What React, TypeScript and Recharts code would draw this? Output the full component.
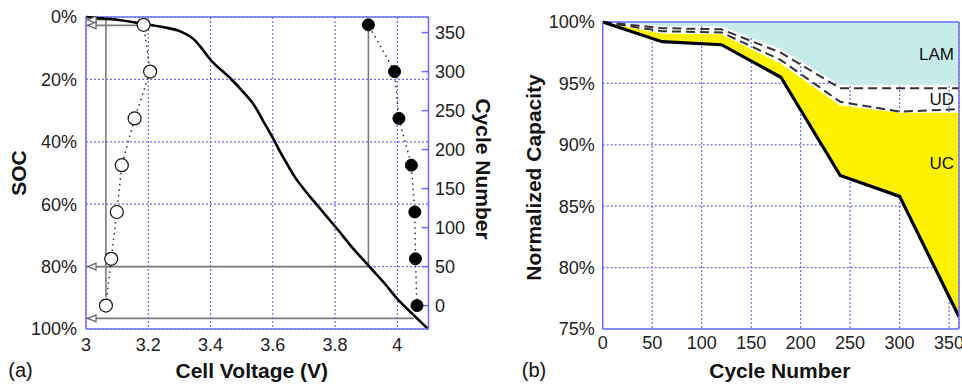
import {
  Area,
  CartesianGrid,
  ComposedChart,
  Label,
  Line,
  ReferenceDot,
  ReferenceLine,
  XAxis,
  YAxis,
} from "recharts";

const FONT = "'Liberation Sans', Arial, sans-serif";
const BLUE = "#6e6ef7";
const GRID = "#6c6cff";
const GRAY = "#7a7a7a";
const YELLOW = "#fff200";
const CYAN = "#c6ece9";

// (a) SOC vs cell voltage
const curveVolts = [
  3.0, 3.035, 3.1, 3.184, 3.25, 3.303, 3.35, 3.368, 3.4, 3.465, 3.5, 3.539,
  3.57, 3.603, 3.625, 3.648, 3.669, 3.7, 3.733, 3.77, 3.809, 3.852, 3.911,
  3.96, 4.002, 4.05, 4.099,
];
const curveSoc = [
  0, 0.3, 0.9, 2.2, 3.3, 4.6, 7.5, 9.6, 13.7, 19.8, 23.5, 28.1, 33.5, 39.3,
  43.5, 47.5, 51, 55.2, 59.2, 63.6, 68.2, 73.5, 80.1, 85.5, 90.6, 95.3, 100,
];

const markerCycles = [0, 60, 120, 180, 240, 300, 360];
const openVolts = [3.064, 3.081, 3.099, 3.115, 3.156, 3.206, 3.185];
const filledVolts = [4.063, 4.058, 4.056, 4.045, 4.005, 3.991, 3.907];

// gray guide arrows (voltage, SOC), arrow head at first point
const guideTopV = [3.0, 3.064, 3.064];
const guideTopSoc = [0.9, 0.9, 89.8];
const guide360V = [3.0, 3.185];
const guide360Soc = [2.7, 2.7];
const guide80V = [3.0, 3.907, 3.907];
const guide80Soc = [80, 80, 2.7];
const guideEndV = [3.0, 4.053];
const guideEndSoc = [96.6, 96.6];

const voltTicks = [3, 3.2, 3.4, 3.6, 3.8, 4];
const socTicks = [0, 20, 40, 60, 80, 100];
const cycleTicksA = [0, 50, 100, 150, 200, 250, 300, 350];

// (b) normalized capacity vs cycle number
const cycleNums = [0, 60, 120, 180, 240, 300, 360];
const capacity = [100, 98.4, 98.15, 95.5, 87.5, 85.8, 76.0];
const ucTop = [100, 99.05, 99.0, 96.6, 93.2, 92.6, 92.6];
const udDashed = [100, 99.25, 99.15, 96.9, 93.5, 92.7, 92.9];
const lamDashed = [100, 99.5, 99.4, 97.5, 94.6, 94.6, 94.6];
const lamEdge = [100, 99.7, 99.65, 97.8, 94.9, 94.9, 94.9];

const cycleTicksB = [0, 50, 100, 150, 200, 250, 300, 350];
const capTicks = [75, 80, 85, 90, 95, 100];
const regionLabels = [
  { name: "LAM", y: 97.4 },
  { name: "UD", y: 93.7 },
  { name: "UC", y: 88.5 },
];

const pts = (xs: number[], ys: number[]) => xs.map((v, i) => ({ v, y: ys[i] }));

const curveData = pts(curveVolts, curveSoc);
const openData = pts(openVolts, markerCycles);
const filledData = pts(filledVolts, markerCycles);
const guides = [
  pts(guideTopV, guideTopSoc),
  pts(guide360V, guide360Soc),
  pts(guide80V, guide80Soc),
  pts(guideEndV, guideEndSoc),
];

const capRows = cycleNums.map((c, i) => ({
  c,
  cap: capacity[i],
  uc: ucTop[i],
  ud: udDashed[i],
  lam: lamDashed[i],
  lamEdge: lamEdge[i],
}));

const tickStyle = { fontSize: 18, fill: "#222", fontFamily: FONT };
const axisStyle = { stroke: BLUE, strokeWidth: 1.5 };

const title =
  (text: string, dx: number, dy: number, angle = 0, bold = true, size = 21) =>
  (props: any) => {
    const vb = props.viewBox;
    const cx = vb.x + vb.width / 2 + dx;
    const cy = vb.y + vb.height / 2 + dy;
    return (
      <text
        x={cx}
        y={cy}
        transform={angle ? `rotate(${angle} ${cx} ${cy})` : undefined}
        textAnchor="middle"
        dominantBaseline="central"
        fontFamily={FONT}
        fontSize={size}
        fontWeight={bold ? "bold" : "normal"}
        fill="#111"
      >
        {text}
      </text>
    );
  };

const arrowHead = (props: any) => {
  const { cx, cy, index } = props;
  if (index !== 0 || cx == null) return <g key={`ah-${index}`} />;
  return (
    <path
      key={`ah-${index}`}
      d={`M${cx + 2},${cy} L${cx + 10},${cy - 3.5} L${cx + 10},${cy + 3.5} Z`}
      fill="#fff"
      stroke="#666"
      strokeWidth={1.2}
    />
  );
};

const PanelA = () => (
  <ComposedChart width={500} height={384} margin={{ top: 17, right: 0, bottom: 0, left: 0 }}>
    <CartesianGrid yAxisId="soc" stroke={GRID} strokeDasharray="2 2" strokeWidth={1.2} />
    <XAxis
      type="number"
      dataKey="v"
      domain={[3, 4.1]}
      ticks={voltTicks}
      allowDataOverflow
      interval={0}
      height={55}
      axisLine={axisStyle}
      tickLine={false}
      tickSize={0}
      tickMargin={9}
      tick={tickStyle}
    >
      <Label content={title("Cell Voltage (V)", -5.5, 13.5)} />
      <Label content={title("(a)", -236.75, 13.5, 0, false, 20)} />
    </XAxis>
    <YAxis
      yAxisId="soc"
      type="number"
      domain={[0, 100]}
      reversed
      ticks={socTicks}
      interval={0}
      width={86}
      axisLine={axisStyle}
      tickLine={false}
      tickSize={0}
      tickMargin={9}
      tick={tickStyle}
      tickFormatter={(v) => `${v}%`}
    >
      <Label content={title("SOC", -24.5, 0, -90)} />
    </YAxis>
    <YAxis
      yAxisId="cyc"
      orientation="right"
      type="number"
      domain={[-30, 370]}
      ticks={cycleTicksA}
      interval={0}
      width={71.5}
      axisLine={axisStyle}
      tickLine={axisStyle}
      tickSize={-7}
      tickMargin={13.5}
      tick={tickStyle}
    >
      <Label content={title("Cycle Number", 19, -4, 90)} />
    </YAxis>
    <ReferenceLine yAxisId="soc" y={0} stroke={BLUE} strokeWidth={1.5} />
    {guides.map((g, i) => (
      <Line
        key={`guide-${i}`}
        yAxisId="soc"
        data={g}
        dataKey="y"
        type="linear"
        stroke={GRAY}
        strokeWidth={1.6}
        dot={arrowHead}
        activeDot={false}
        isAnimationActive={false}
      />
    ))}
    <Line
      yAxisId="soc"
      data={curveData}
      dataKey="y"
      type="monotone"
      stroke="#000"
      strokeWidth={2.6}
      dot={false}
      activeDot={false}
      isAnimationActive={false}
    />
    <Line
      yAxisId="cyc"
      data={openData}
      dataKey="y"
      type="linear"
      stroke="#333"
      strokeWidth={1.5}
      strokeDasharray="1.5 4"
      dot={{ r: 6.5, fill: "#fff", stroke: "#111", strokeWidth: 1.2, strokeDasharray: "" }}
      activeDot={false}
      isAnimationActive={false}
    />
    <Line
      yAxisId="cyc"
      data={filledData}
      dataKey="y"
      type="linear"
      stroke="#333"
      strokeWidth={1.5}
      strokeDasharray="1.5 4"
      dot={{ r: 6, fill: "#000", stroke: "#000", strokeWidth: 1, strokeDasharray: "" }}
      activeDot={false}
      isAnimationActive={false}
    />
  </ComposedChart>
);

const PanelB = () => (
  <ComposedChart width={462} height={384} data={capRows} margin={{ top: 22, right: 2, bottom: 0, left: 0 }}>
    <XAxis
      type="number"
      dataKey="c"
      domain={[0, 360]}
      ticks={cycleTicksB}
      allowDataOverflow
      interval={0}
      height={55}
      axisLine={axisStyle}
      tickLine={false}
      tickSize={0}
      tickMargin={7}
      tick={tickStyle}
    >
      <Label content={title("Cycle Number", -1, 13.5)} />
      <Label content={title("(b)", -246.85, 13.5, 0, false, 20)} />
    </XAxis>
    <YAxis
      yAxisId="l"
      type="number"
      domain={[75, 100]}
      ticks={capTicks}
      interval={0}
      width={102.7}
      axisLine={axisStyle}
      tickLine={false}
      tickSize={0}
      tickMargin={8}
      tick={tickStyle}
      tickFormatter={(v) => `${v}%`}
    >
      <Label content={title("Normalized Capacity", -18.35, 2, -90)} />
    </YAxis>
    <YAxis
      yAxisId="r"
      orientation="right"
      type="number"
      domain={[75, 100]}
      ticks={[80, 85, 90, 95]}
      interval={0}
      width={1}
      axisLine={axisStyle}
      tickLine={{ stroke: "#8a8ab8", strokeWidth: 1.5 }}
      tickSize={-7}
      tick={false}
    />
    <Area
      yAxisId="l"
      dataKey={(d: any) => [d.lamEdge, 100]}
      type="linear"
      fill={CYAN}
      fillOpacity={1}
      stroke="none"
      activeDot={false}
      isAnimationActive={false}
    />
    <Area
      yAxisId="l"
      dataKey={(d: any) => [d.cap, d.uc]}
      type="linear"
      fill={YELLOW}
      fillOpacity={1}
      stroke="none"
      activeDot={false}
      isAnimationActive={false}
    />
    <CartesianGrid yAxisId="l" stroke={GRID} strokeDasharray="2 2" strokeWidth={1.2} />
    <ReferenceLine yAxisId="l" y={100} stroke={BLUE} strokeWidth={1.5} />
    <Line
      yAxisId="l"
      dataKey="lam"
      type="linear"
      stroke="#333"
      strokeWidth={2}
      strokeDasharray="9 5"
      dot={false}
      activeDot={false}
      isAnimationActive={false}
    />
    <Line
      yAxisId="l"
      dataKey="ud"
      type="linear"
      stroke="#333"
      strokeWidth={2}
      strokeDasharray="9 5"
      dot={false}
      activeDot={false}
      isAnimationActive={false}
    />
    <Line
      yAxisId="l"
      dataKey="cap"
      type="linear"
      stroke="#000"
      strokeWidth={3.2}
      dot={false}
      activeDot={false}
      isAnimationActive={false}
    />
    {regionLabels.map((r) => (
      <ReferenceDot
        key={r.name}
        yAxisId="l"
        x={360}
        y={r.y}
        r={0}
        fill="none"
        stroke="none"
        label={{ value: r.name, position: "left", offset: 5, fontSize: 17, fill: "#111", fontFamily: FONT }}
      />
    ))}
  </ComposedChart>
);

export default function App() {
  return (
    <div style={{ position: "absolute", left: 0, top: 0, width: 962, height: 384, background: "#fff" }}>
      <div style={{ position: "absolute", left: 0, top: 0 }}>
        <PanelA />
      </div>
      <div style={{ position: "absolute", left: 500, top: 0 }}>
        <PanelB />
      </div>
    </div>
  );
}
